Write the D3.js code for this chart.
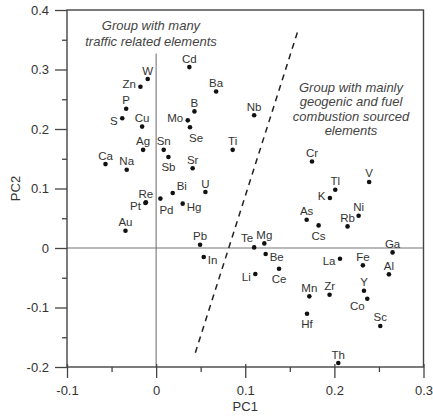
<!DOCTYPE html>
<html><head><meta charset="utf-8">
<script src="https://cdn.jsdelivr.net/npm/d3@7"></script>
<style>
html,body{margin:0;padding:0;background:#fff;}
svg{display:block;font-family:"Liberation Sans",Arial,sans-serif;}
</style></head>
<body>
<svg id="chart" width="433" height="416"></svg>
<script>
// ---- data ----
const elements = ["W","Zn","P","S","Cu","Ag","Ca","Na","Re","Pt","Pd","Au","Sn","Sb","Sr","Bi","U","Hg","Cd","Ba","B","Mo","Se","Nb","Ti","Pb","In","Te","Mg","Be","Li","Ce","Cr","V","Tl","K","As","Cs","Ni","Rb","Ga","La","Fe","Al","Y","Co","Mn","Zr","Hf","Sc","Th"];
const pc1 = [-0.0094,-0.0176,-0.0336,-0.038,-0.0157,-0.0146,-0.0568,-0.033,-0.0115,-0.012,0.0048,-0.0344,0.0085,0.0138,0.041,0.0186,0.0553,0.0298,0.0373,0.0673,0.043,0.0355,0.038,0.110,0.0859,0.0493,0.0534,0.110,0.1214,0.1229,0.1113,0.1379,0.1749,0.239,0.201,0.195,0.1689,0.1823,0.2272,0.2148,0.2653,0.2063,0.232,0.2612,0.2332,0.2369,0.1719,0.1946,0.1693,0.2515,0.2044];
const pc2 = [0.284,0.271,0.234,0.218,0.204,0.165,0.141,0.1316,0.077,0.0756,0.083,0.029,0.165,0.153,0.134,0.0924,0.094,0.0745,0.304,0.263,0.2296,0.2145,0.203,0.223,0.165,0.0055,-0.0151,0.001,0.0077,-0.0101,-0.0437,-0.0348,0.1455,0.111,0.098,0.084,0.0476,0.038,0.0543,0.0363,-0.0074,-0.018,-0.0292,-0.0443,-0.0718,-0.0852,-0.0813,-0.0785,-0.1104,-0.131,-0.1933];
// label side relative to its point
const labelSide = {W:"n",Zn:"wn",P:"n",S:"w",Cu:"n",Ag:"n",Ca:"n",Na:"n",Re:"n",Pt:"w",Pd:"se",Au:"n",Sn:"n",Sb:"s",Sr:"n",Bi:"ne",U:"n",Hg:"e",Cd:"n",Ba:"n",B:"n",Mo:"wn",Se:"se",Nb:"n",Ti:"n",Pb:"n",In:"e",Te:"nw",Mg:"n",Be:"e",Li:"w",Ce:"s",Cr:"n",V:"n",Tl:"n",K:"wn",As:"n",Cs:"s",Ni:"n",Rb:"n",Ga:"n",La:"w",Fe:"n",Al:"n",Y:"n",Co:"sw",Mn:"n",Zr:"n",Hf:"s",Sc:"n",Th:"n"};
const xTicks = [-0.1,0,0.1,0.2,0.3];
const yTicks = [-0.2,-0.1,0,0.1,0.2,0.3,0.4];
const xMinor = [-0.05,0.05,0.15,0.25];
const yMinor = [-0.15,-0.05,0.05,0.15,0.25,0.35];
const dividerX = [0.044,0.1595];
const dividerY = [-0.176,0.367];
const zeroLineTop = 0.327;
const noteLeft = ["Group with many","traffic related elements"];
const noteRight = ["Group with mainly","geogenic and fuel","combustion sourced","elements"];

// ---- drawing ----
const svg = d3.select("#chart");
const x = d3.scaleLinear().domain([-0.1,0.3]).range([67,423.5]);
const y = d3.scaleLinear().domain([-0.2,0.4]).range([367,10]);
const fmt = d => d===0 ? "0" : d3.format(".1f")(d).replace("\u2212","-");

// zero lines
svg.append("line").attr("x1",x(0)).attr("x2",x(0)).attr("y1",y(zeroLineTop)).attr("y2",y(-0.2))
  .attr("stroke","#777").attr("stroke-width",1.1);
svg.append("line").attr("x1",x(-0.1)).attr("x2",x(0.3)).attr("y1",y(0)).attr("y2",y(0))
  .attr("stroke","#777").attr("stroke-width",1.1);

// frame
svg.append("rect").attr("x",x(-0.1)).attr("y",y(0.4)).attr("width",x(0.3)-x(-0.1)).attr("height",y(-0.2)-y(0.4))
  .attr("fill","none").attr("stroke","#444").attr("stroke-width",1.4);

// axes
const xAxis = svg.append("g").attr("transform",`translate(0,${y(-0.2)})`)
  .call(d3.axisBottom(x).tickValues(xTicks).tickFormat(fmt).tickSize(11).tickPadding(8));
xAxis.selectAll(".tick line").attr("y1",-3);
svg.append("g").attr("transform",`translate(0,${y(-0.2)})`)
  .call(d3.axisBottom(x).tickValues(xMinor).tickFormat("").tickSize(5));
svg.append("g").attr("transform",`translate(${x(-0.1)},0)`)
  .call(d3.axisLeft(y).tickValues(yTicks).tickFormat(fmt).tickSize(12).tickPadding(6));
svg.append("g").attr("transform",`translate(${x(-0.1)},0)`)
  .call(d3.axisLeft(y).tickValues(yMinor).tickFormat("").tickSize(5));
svg.selectAll(".domain").remove();
svg.selectAll(".tick line").attr("stroke","#444").attr("stroke-width",1.3);
svg.selectAll(".tick text").attr("fill","#333").attr("font-size",13).attr("font-family",'"Liberation Sans",Arial,sans-serif');

// axis titles
svg.append("text").attr("x",(x(-0.1)+x(0.3))/2).attr("y",411).attr("text-anchor","middle")
  .attr("font-size",13).attr("fill","#333").text("PC1");
svg.append("text").attr("transform",`translate(20,${(y(0.4)+y(-0.2))/2}) rotate(-90)`).attr("text-anchor","middle")
  .attr("font-size",13).attr("fill","#333").text("PC2");

// divider
svg.append("line").attr("x1",x(dividerX[0])).attr("y1",y(dividerY[0])).attr("x2",x(dividerX[1])).attr("y2",y(dividerY[1]))
  .attr("stroke","#222").attr("stroke-width",1.5).attr("stroke-dasharray","6,5");

// notes
const nl = svg.append("text").attr("font-style","italic").attr("font-size",13).attr("fill","#444").attr("text-anchor","middle");
noteLeft.forEach((t,i)=> nl.append("tspan").attr("x",151).attr("y",29.5+i*16).text(t));
const nr = svg.append("text").attr("font-style","italic").attr("font-size",13).attr("fill","#444").attr("text-anchor","middle");
noteRight.forEach((t,i)=> nr.append("tspan").attr("x",351).attr("y",91.5+i*14.6).text(t));

// points
const pts = elements.map((e,i)=>({e, px:pc1[i], py:pc2[i], side:labelSide[e]}));
svg.append("g").selectAll("circle").data(pts).join("circle")
  .attr("cx",d=>x(d.px)).attr("cy",d=>y(d.py)).attr("r",2.3).attr("fill","#111");

const off = {
  n:{dx:0,dy:-4.5,a:"middle"}, s:{dx:0,dy:14.5,a:"middle"},
  w:{dx:-4.5,dy:6.5,a:"end"}, wn:{dx:-4.5,dy:1.5,a:"end"},
  e:{dx:4,dy:7,a:"start"}, se:{dx:-1,dy:15,a:"start"},
  ne:{dx:4,dy:-3,a:"start"}, nw:{dx:-1,dy:-5,a:"end"}, sw:{dx:-2.5,dy:11,a:"end"}
};
svg.append("g").selectAll("text").data(pts).join("text")
  .attr("x",d=>x(d.px)+off[d.side].dx).attr("y",d=>y(d.py)+off[d.side].dy)
  .attr("text-anchor",d=>off[d.side].a)
  .attr("font-size",11.5).attr("fill","#333").text(d=>d.e);
</script>
</body></html>
